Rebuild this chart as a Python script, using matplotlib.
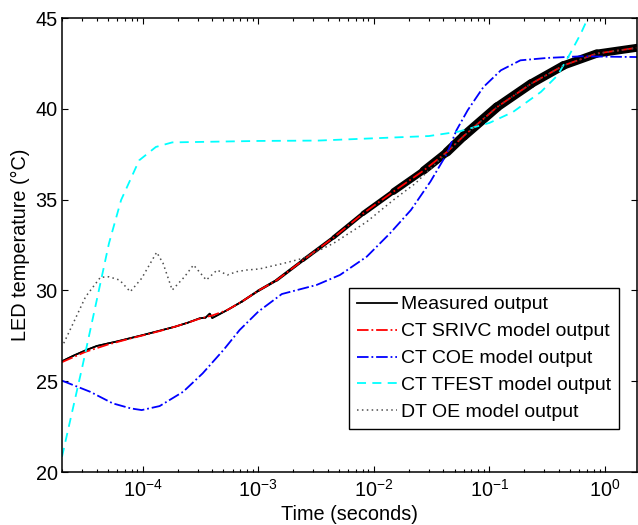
import numpy as np
import matplotlib
matplotlib.use("Agg")
import matplotlib.pyplot as plt
from matplotlib.collections import LineCollection

plt.rcParams["font.family"] = ["Liberation Sans", "DejaVu Sans"]
plt.rcParams["mathtext.fontset"] = "custom"
plt.rcParams["mathtext.rm"] = "Liberation Sans"
plt.rcParams["mathtext.it"] = "Liberation Sans:italic"
plt.rcParams["mathtext.bf"] = "Liberation Sans:bold"

# Measured output
meas_t = [2.0e-5, 2.5e-5, 3.2e-5, 4.0e-5, 5.0e-5, 5.9e-5, 7.9e-5, 1.0e-4, 1.4e-4,
          1.9e-4, 2.45e-4, 3.1e-4, 3.5e-4, 3.8e-4, 4.0e-4, 5.4e-4, 7.2e-4, 1.0e-3,
          1.45e-3, 2.45e-3, 4.5e-3, 8.1e-3, 1.48e-2, 2.7e-2, 4.3e-2, 6.0e-2, 0.117,
          0.23, 0.44, 0.85, 1.9]
meas_y = [26.10, 26.40, 26.70, 26.94, 27.08, 27.18, 27.38, 27.54, 27.78,
          28.00, 28.22, 28.46, 28.50, 28.72, 28.48, 28.92, 29.38, 29.98,
          30.57, 31.67, 32.92, 34.24, 35.44, 36.60, 37.62, 38.50, 40.10,
          41.38, 42.39, 43.04, 43.36]

# CT SRIVC model output
srivc_t = [2.0e-5, 3.2e-5, 5.0e-5, 7.9e-5, 1.0e-4, 1.4e-4, 1.9e-4, 2.45e-4, 3.1e-4,
           4.0e-4, 5.4e-4, 7.2e-4, 1.0e-3, 1.45e-3, 2.45e-3, 4.5e-3, 8.1e-3, 1.48e-2,
           2.7e-2, 4.3e-2, 6.0e-2, 0.117, 0.23, 0.44, 0.85, 1.9]
srivc_y = [26.05, 26.62, 27.02, 27.36, 27.52, 27.76, 28.00, 28.22, 28.44,
           28.62, 28.92, 29.38, 29.98, 30.57, 31.67, 32.92, 34.24, 35.44,
           36.60, 37.62, 38.50, 40.10, 41.38, 42.39, 43.04, 43.36]

# CT COE model output
coe_t = [2.0e-5, 3.5e-5, 5.5e-5, 7.9e-5, 9.8e-5, 1.4e-4, 2.24e-4, 3.3e-4, 5.0e-4,
         6.9e-4, 1.0e-3, 1.6e-3, 3.2e-3, 5.1e-3, 8.7e-3, 1.38e-2, 2.1e-2, 3.1e-2,
         4.3e-2, 5.2e-2, 6.5e-2, 8.9e-2, 0.126, 0.186, 0.316, 0.62, 1.9]
coe_y = [25.03, 24.42, 23.78, 23.50, 23.41, 23.63, 24.42, 25.43, 26.72,
         27.82, 28.83, 29.80, 30.30, 30.85, 31.86, 33.14, 34.43, 36.00,
         37.53, 38.82, 39.92, 41.20, 42.12, 42.67, 42.80, 42.89, 42.85]

# CT TFEST model output
tfest_t = [2.0e-5, 3.0e-5, 4.0e-5, 5.1e-5, 6.5e-5, 7.2e-5, 9.3e-5, 1.3e-4, 1.8e-4,
           1.0e-3, 3.3e-3, 3.0e-2, 5.4e-2, 0.10, 0.16, 0.28, 0.39, 0.50, 0.62,
           0.72, 0.80]
tfest_y = [20.84, 25.80, 29.47, 32.59, 34.98, 35.60, 37.16, 37.90, 38.15,
           38.23, 38.25, 38.50, 38.74, 39.22, 39.82, 40.93, 41.84, 43.03, 44.14,
           45.05, 45.60]

# DT OE model output
oe_t = [2.07e-5, 2.5e-5, 3.2e-5, 4.3e-5, 5.1e-5, 6.3e-5, 7.8e-5, 9.8e-5, 1.32e-4,
        1.5e-4, 1.8e-4, 2.3e-4, 2.75e-4, 3.55e-4, 4.4e-4, 5.4e-4, 6.5e-4, 7.9e-4,
        1.02e-3, 1.66e-3, 2.45e-3, 4.5e-3, 8.7e-3, 1.48e-2, 2.3e-2, 4.0e-2, 6.0e-2,
        0.117, 0.23, 0.44, 0.85, 1.9]
oe_y = [27.09, 28.19, 29.65, 30.72, 30.75, 30.57, 29.93, 30.67, 32.10,
        31.49, 30.02, 30.75, 31.40, 30.57, 31.12, 30.85, 31.03, 31.12,
        31.18, 31.49, 31.77, 32.60, 33.78, 34.98, 35.90, 37.40, 38.50,
        40.10, 41.38, 42.39, 43.04, 43.36]

labels = ["Measured output", "CT SRIVC model output", "CT COE model output",
          "CT TFEST model output", "DT OE model output"]

fig = plt.figure(figsize=(6.38, 5.25), dpi=100)
ax = fig.add_axes([62 / 638, 53 / 525, 575 / 638, 454 / 525])

# measured data gets visibly noisier (thicker) at larger times
mt = np.array(meas_t)
my = np.array(meas_y)
pts = np.column_stack([np.log10(mt), my])
segs = np.stack([pts[:-1], pts[1:]], axis=1)
mid = 0.5 * (pts[:-1, 0] + pts[1:, 0])
widths = np.interp(mid, [-3.3, -2.0, -1.2, 0.3], [1.1, 3.5, 7.0, 5.5])
lc = LineCollection([np.column_stack([10 ** s[:, 0], s[:, 1]]) for s in segs],
                    linewidths=widths, colors="black", capstyle="round",
                    joinstyle="round")
ax.add_collection(lc)

ax.plot(meas_t, meas_y, color="black", lw=1.3, label=labels[0])
ax.plot(srivc_t, srivc_y, color="red", lw=1.3, ls="-.", label=labels[1])
ax.plot(coe_t, coe_y, color="blue", lw=1.3, ls="-.", label=labels[2])
ax.plot(tfest_t, tfest_y, color="cyan", lw=1.3, ls="--", dashes=(5, 3.5),
        label=labels[3])
ax.plot(oe_t, oe_y, color="0.3", lw=1.1, ls=(0, (1, 2.2)), label=labels[4])

ax.set_xscale("log")
ax.set_xlim(2e-5, 1.9)
ax.set_ylim(20, 45)
ax.set_yticks([20, 25, 30, 35, 40, 45])

ax.tick_params(which="both", direction="in", top=True, right=True,
               labelsize=14.3, width=0.8)
ax.tick_params(which="major", length=4)
ax.tick_params(which="minor", length=2.2)
ax.tick_params(axis="x", pad=5)
ax.tick_params(axis="y", pad=3)
for s in ax.spines.values():
    s.set_linewidth(1.1)

ax.set_xlabel("Time (seconds)", fontsize=14.3, labelpad=3)
ax.set_ylabel("LED temperature (°C)", fontsize=14.3, labelpad=4)

leg = ax.legend(loc="lower left", bbox_to_anchor=(0.499, 0.0947),
                borderaxespad=0, fontsize=14, fancybox=False, framealpha=1,
                edgecolor="black", handlelength=2.05, handletextpad=0.22,
                labelspacing=0.48, borderpad=0.4)
leg.get_frame().set_linewidth(1.0)

fig.savefig("out.png", dpi=100)
